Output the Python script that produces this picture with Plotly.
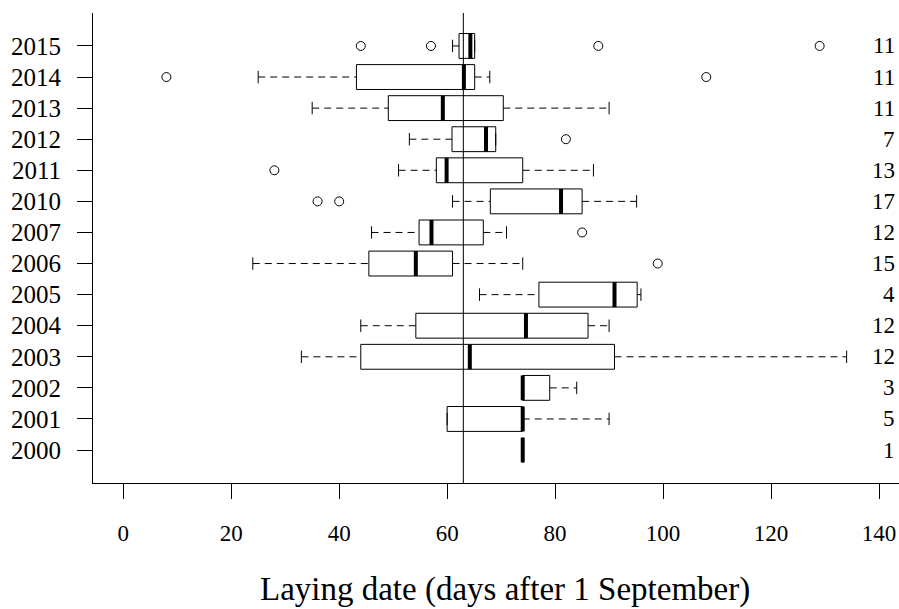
import plotly.graph_objects as go

# ---- data ----
years = ["2000", "2001", "2002", "2003", "2004", "2005", "2006", "2007",
         "2010", "2011", "2012", "2013", "2014", "2015"]
n_obs = [1, 5, 3, 12, 12, 4, 15, 12, 17, 13, 7, 11, 11, 11]
whisker_low = [74, 60, 74, 33, 44, 66, 24, 46, 61, 51, 53, 35, 25, 61]
q1 = [74, 60, 74, 44, 54.2, 77, 45.5, 54.8, 68, 58, 60.9, 49.1, 43.2, 62.2]
median = [74, 74, 74, 64.2, 74.6, 91, 54.2, 57.1, 81.1, 59.9, 67.2, 59.2, 63.1, 64.3]
q3 = [74, 74, 79, 91, 86.1, 95.2, 61, 66.7, 85, 74, 69, 70.4, 65.1, 65.1]
whisker_high = [74, 90, 84, 134, 90, 95.9, 74, 71, 95.1, 87.1, 69, 90, 67.9, 65.1]
outlier_years = ["2015", "2015", "2015", "2015", "2014", "2014", "2012",
                 "2011", "2010", "2010", "2007", "2006"]
outlier_values = [44, 57, 88, 129, 8, 108, 82, 28, 36, 40, 85, 99]
reference_day = 63
x_ticks = [0, 20, 40, 60, 80, 100, 120, 140]
x_title = "Laying date (days after 1 September)"

FONT = "Liberation Serif"
BOX_HALF = 0.4
STAPLE_HALF = 0.2

pos = list(range(1, len(years) + 1))
pos_of = dict(zip(years, pos))

box_x, box_y = [], []
med_x, med_y = [], []
wh_x, wh_y = [], []
st_x, st_y = [], []
for p, lo, a, m, b, hi in zip(pos, whisker_low, q1, median, q3, whisker_high):
    box_x += [a, b, b, a, a, None]
    box_y += [p - BOX_HALF, p - BOX_HALF, p + BOX_HALF, p + BOX_HALF, p - BOX_HALF, None]
    med_x += [m, m, None]
    med_y += [p - BOX_HALF, p + BOX_HALF, None]
    wh_x += [lo, a, None, b, hi, None]
    wh_y += [p, p, None, p, p, None]
    st_x += [lo, lo, None, hi, hi, None]
    st_y += [p - STAPLE_HALF, p + STAPLE_HALF, None, p - STAPLE_HALF, p + STAPLE_HALF, None]

fig = go.Figure()
fig.add_trace(go.Scatter(x=wh_x, y=wh_y, mode="lines",
                         line=dict(color="black", width=1, dash="7px,5px"),
                         hoverinfo="skip", showlegend=False))
fig.add_trace(go.Scatter(x=st_x, y=st_y, mode="lines",
                         line=dict(color="black", width=1),
                         hoverinfo="skip", showlegend=False))
fig.add_trace(go.Scatter(x=box_x, y=box_y, mode="lines",
                         line=dict(color="black", width=1),
                         hoverinfo="skip", showlegend=False))
fig.add_trace(go.Scatter(x=med_x, y=med_y, mode="lines",
                         line=dict(color="black", width=4),
                         hoverinfo="skip", showlegend=False))
fig.add_trace(go.Scatter(x=outlier_values, y=[pos_of[y] for y in outlier_years],
                         mode="markers",
                         marker=dict(symbol="circle-open", size=9, color="black",
                                     line=dict(width=1)),
                         hoverinfo="skip", showlegend=False))

fig.add_shape(type="line", xref="x", yref="paper", x0=reference_day, x1=reference_day,
              y0=0, y1=1, line=dict(color="black", width=1), layer="above")

for p, n in zip(pos, n_obs):
    fig.add_annotation(xref="paper", yref="y", x=1, y=p, text=str(n),
                       xanchor="right", yanchor="middle", xshift=-2,
                       showarrow=False, font=dict(family=FONT, size=23, color="black"))

fig.add_annotation(xref="paper", yref="paper", x=0.5, y=0, text=x_title,
                   xanchor="center", yanchor="top", xshift=9, yshift=-86,
                   showarrow=False, font=dict(family=FONT, size=33, color="black"))

fig.update_layout(
    width=899, height=609,
    margin=dict(l=93, r=0, t=13, b=126),
    paper_bgcolor="white", plot_bgcolor="white",
    font=dict(family=FONT, color="black"),
    xaxis=dict(range=[-5.6, 143.7], tickmode="array", tickvals=x_ticks,
               ticktext=[str(t) for t in x_ticks],
               ticks="outside", ticklen=15, tickwidth=1, tickcolor="black",
               showline=True, linecolor="black", linewidth=1,
               showgrid=False, zeroline=False, ticklabelstandoff=14,
               tickfont=dict(family=FONT, size=23, color="black")),
    yaxis=dict(range=[-0.06, 15.06], tickmode="array", tickvals=pos, ticktext=years,
               ticks="outside", ticklen=15, tickwidth=1, tickcolor="black",
               showline=True, linecolor="black", linewidth=1,
               showgrid=False, zeroline=False, ticklabelstandoff=11,
               tickfont=dict(family=FONT, size=25, color="black")),
)

fig.write_html("out.html")
